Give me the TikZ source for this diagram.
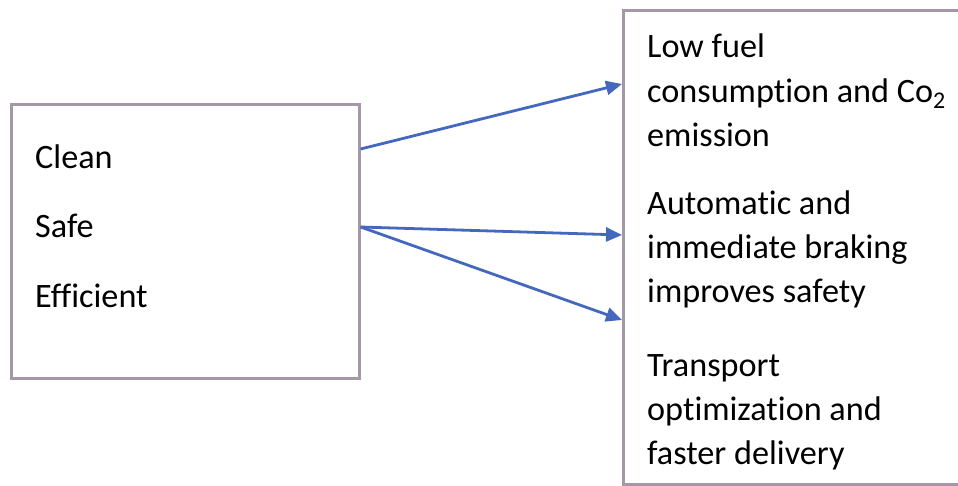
\documentclass[tikz,border=0pt]{standalone}
\usepackage{fontspec}
\setmainfont[Ligatures={NoCommon}]{Carlito}
\usetikzlibrary{arrows.meta}
\definecolor{boxline}{RGB}{165,150,168}
\definecolor{arrowblue}{RGB}{68,104,190}
\begin{document}
\begin{tikzpicture}[x=1pt,y=-1pt,
  boxstyle/.style={draw=boxline, line width=2.6pt, inner sep=0pt, anchor=north west},
  txt/.style={anchor=base west, inner sep=0pt, font=\fontsize{34.2}{42}\selectfont, text=black},
  conn/.style={draw=arrowblue, line width=2.8pt, -{Triangle[length=16pt,width=14pt]}}]
\useasboundingbox (0,0) rectangle (958,485);
\clip (0,0) rectangle (958,485);
\node[boxstyle, minimum width=348pt, minimum height=274pt] (L) at (10,103) {};
\node[boxstyle, minimum width=360pt, minimum height=474pt] (R) at (622,9) {};
% left texts
\node[txt] (t1) at (35,168) {Clean};
\node[txt] (t2) at (35,237) {Safe};
\node[txt] (t3) at (35,307) {Efficient};
% right texts
\node[txt] (r1) at (647,57) {Low fuel};
\node[txt] (r2) at (647,102) {consumption and Co\textsubscript{2}};
\node[txt] (r3) at (647,146) {emission};
\node[txt] (r4) at (647,214) {Automatic and};
\node[txt] (r5) at (647,258) {immediate braking};
\node[txt] (r6) at (647,302) {improves safety};
\node[txt] (r7) at (647,376) {Transport};
\node[txt] (r8) at (647,420) {optimization and};
\node[txt] (r9) at (647,464) {faster delivery};
% connector anchors
\coordinate (s1) at (L.north east |- 0,149);
\coordinate (s2) at (L.north east |- 0,227);
\coordinate (e1) at (R.north west |- 0,84);
\coordinate (e2) at (R.north west |- 0,235);
\coordinate (e3) at (R.north west |- 0,320);
\draw[conn] (s1) -- (e1);
\draw[conn] (s2) -- (e2);
\draw[conn] (s2) -- (e3);
\end{tikzpicture}
\end{document}
